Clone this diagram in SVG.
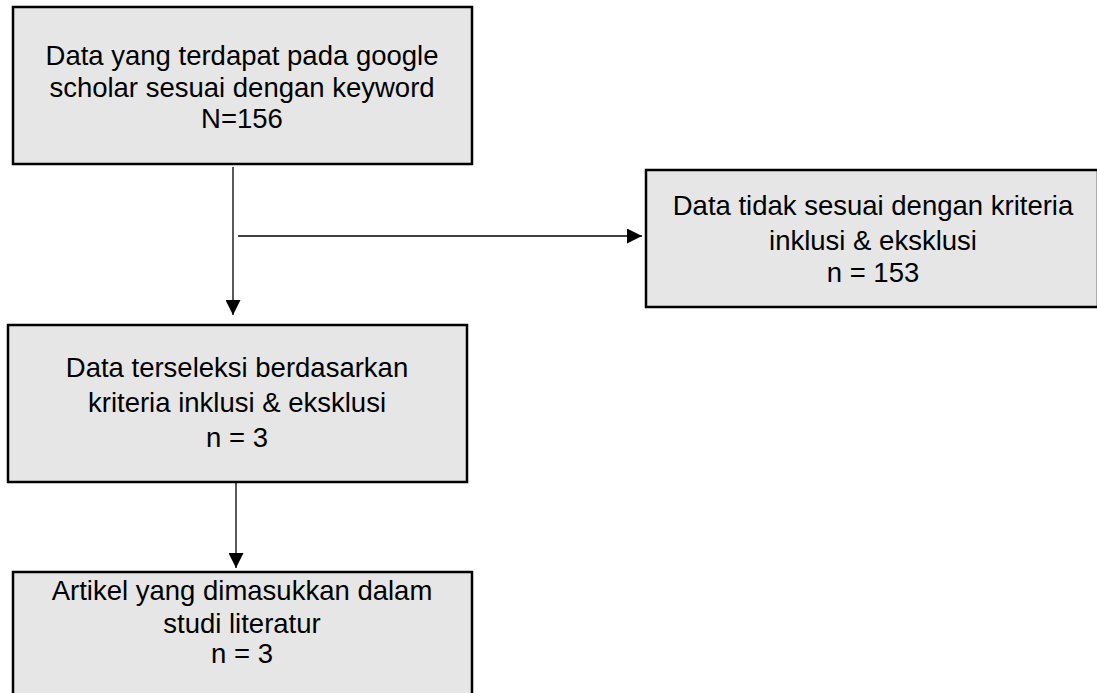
<svg xmlns="http://www.w3.org/2000/svg" width="1097" height="693" viewBox="0 0 1097 693">
<style>
.box{fill:#e6e6e6;stroke:#000;stroke-width:2.5}
.t{font-family:"Liberation Sans",Arial,sans-serif;font-size:27.5px;fill:#000;text-anchor:middle}
.c{stroke:#000;stroke-width:1.3;fill:none}
</style>
<defs>
<marker id="ah" viewBox="0 0 10 10" refX="10" refY="5" markerWidth="15" markerHeight="15" markerUnits="userSpaceOnUse" orient="auto">
<path d="M0,0 L10,5 L0,10 Z" fill="#000"/>
</marker>
</defs>
<rect width="1097" height="693" fill="#fff"/>
<g id="n1">
<rect class="box" x="13" y="7" width="459" height="157"/>
<text class="t" x="242" y="65">Data yang terdapat pada google</text>
<text class="t" x="242" y="97">scholar sesuai dengan keyword</text>
<text class="t" x="242" y="128">N=156</text>
</g>
<g id="n2">
<rect class="box" x="646" y="170" width="452" height="137"/>
<text class="t" x="873" y="215">Data tidak sesuai dengan kriteria</text>
<text class="t" x="873" y="250">inklusi &amp; eksklusi</text>
<text class="t" x="873" y="282">n = 153</text>
</g>
<g id="n3">
<rect class="box" x="8" y="325" width="459" height="157"/>
<text class="t" x="237" y="377">Data terseleksi berdasarkan</text>
<text class="t" x="237" y="412">kriteria inklusi &amp; eksklusi</text>
<text class="t" x="237" y="447">n = 3</text>
</g>
<g id="n4">
<rect class="box" x="13" y="572" width="459" height="130"/>
<text class="t" x="242" y="600">Artikel yang dimasukkan dalam</text>
<text class="t" x="242" y="633">studi literatur</text>
<text class="t" x="242" y="663">n = 3</text>
</g>
<g id="connectors">
<line class="c" x1="233" y1="167" x2="233" y2="315" marker-end="url(#ah)"/>
<line class="c" x1="238" y1="236" x2="642" y2="236" marker-end="url(#ah)"/>
<line class="c" x1="236" y1="483" x2="236" y2="568" marker-end="url(#ah)"/>
</g>
</svg>
